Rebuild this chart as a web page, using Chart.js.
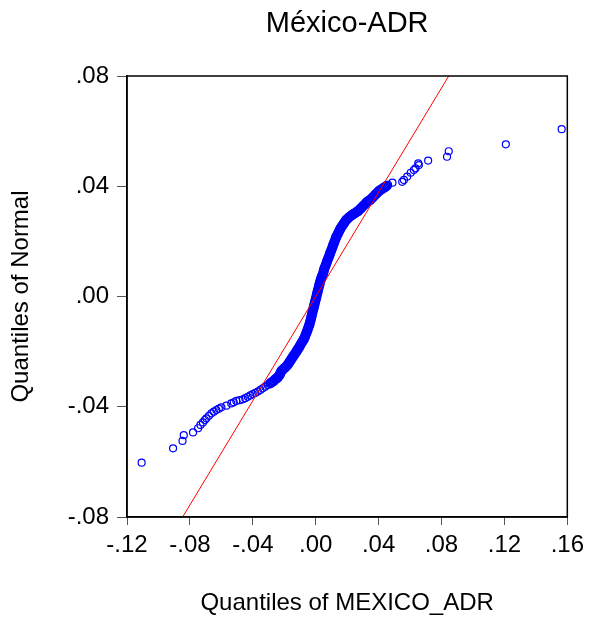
<!DOCTYPE html>
<html>
<head>
<meta charset="utf-8">
<script src="https://cdn.jsdelivr.net/npm/chart.js@4.4.1/dist/chart.umd.min.js"></script>
<style>
    body { margin: 0; background: #fff; }
</style>
</head>
<body>
<canvas id="qqChart" width="590" height="625"></canvas>
<script>
// sample quantiles (x) and matching normal quantiles (y)
const adrQuantiles = [
    -0.1107, -0.0907, -0.0847, -0.0839, -0.0780, -0.0748, -0.0733, -0.0717, -0.0705, -0.0695,
    -0.0679, -0.0663, -0.0648, -0.0632, -0.0616, -0.0600, -0.0568, -0.0537, -0.0521, -0.0505,
    -0.0484, -0.0463, -0.0448, -0.0432, -0.0416, -0.0400, -0.0384, -0.0368, -0.0352, -0.0337,
    -0.0321, -0.0305, -0.0289, -0.0273, -0.0256, -0.0242, -0.0229, -0.0218, -0.0199, -0.0180,
    -0.0167, -0.0155, -0.0142, -0.0129, -0.0117, -0.0104, -0.0091, -0.0079, -0.0069, -0.0060,
    -0.0050, -0.0041, -0.0034, -0.0028, -0.0022, -0.0015, -0.0009, -0.0003, 0.0004, 0.0010,
    0.0016, 0.0023, 0.0029, 0.0038, 0.0048, 0.0054, 0.0064, 0.0073, 0.0083, 0.0092,
    0.0102, 0.0111, 0.0121, 0.0130, 0.0143, 0.0156, 0.0168, 0.0181, 0.0194, 0.0213,
    0.0232, 0.0251, 0.0270, 0.0289, 0.0308, 0.0327, 0.0346, 0.0365, 0.0384, 0.0403,
    0.0422, 0.0441, 0.0460, 0.0488, 0.0550, 0.0561, 0.0582, 0.0604, 0.0624, 0.0635,
    0.0656, 0.0652, 0.0715, 0.0835, 0.0846, 0.1209, 0.1564
];
const normalQuantiles = [
    -0.0603, -0.0551, -0.0524, -0.0503, -0.0493, -0.0478, -0.0466, -0.0457, -0.0448, -0.0442,
    -0.0433, -0.0424, -0.0418, -0.0412, -0.0407, -0.0402, -0.0396, -0.0388, -0.0384, -0.0379,
    -0.0376, -0.0373, -0.0369, -0.0364, -0.0359, -0.0354, -0.0350, -0.0345, -0.0339, -0.0333,
    -0.0327, -0.0321, -0.0315, -0.0309, -0.0300, -0.0294, -0.0284, -0.0270, -0.0260, -0.0249,
    -0.0238, -0.0227, -0.0216, -0.0205, -0.0194, -0.0183, -0.0169, -0.0158, -0.0147, -0.0133,
    -0.0118, -0.0104, -0.0089, -0.0075, -0.0060, -0.0045, -0.0031, -0.0016, -0.0002, 0.0013,
    0.0027, 0.0042, 0.0056, 0.0071, 0.0085, 0.0100, 0.0114, 0.0129, 0.0143, 0.0158,
    0.0172, 0.0187, 0.0201, 0.0216, 0.0230, 0.0245, 0.0256, 0.0267, 0.0278, 0.0288,
    0.0296, 0.0303, 0.0310, 0.0321, 0.0332, 0.0343, 0.0350, 0.0361, 0.0372, 0.0383,
    0.0390, 0.0397, 0.0405, 0.0413, 0.0416, 0.0423, 0.0435, 0.0449, 0.0459, 0.0465,
    0.0477, 0.0483, 0.0493, 0.0507, 0.0527, 0.0552, 0.0607
];

// extra readings inside the dense middle band (where the circles merge)
const bandAdr = [
    -0.0281, -0.0265, -0.0249, -0.0236, -0.0224, -0.0209, -0.0190, -0.0174, -0.0161, -0.0149,
    -0.0136, -0.0123, -0.0111, -0.0098, -0.0085, -0.0074, -0.0065, -0.0055, -0.0046, -0.0038,
    -0.0031, -0.0025, -0.0019, -0.0012, -0.0006, 0.0001, 0.0007, 0.0013, 0.0020, 0.0026,
    0.0034, 0.0043, 0.0051, 0.0059, 0.0069, 0.0078, 0.0088, 0.0097, 0.0107, 0.0116,
    0.0126, 0.0137, 0.0150, 0.0162, 0.0175, 0.0188, 0.0204, 0.0223, 0.0242, 0.0261,
    0.0280, 0.0299, 0.0318, 0.0337, 0.0356, 0.0375, 0.0394, 0.0413, 0.0432, 0.0451
];
const bandNormal = [
    -0.0312, -0.0305, -0.0297, -0.0289, -0.0277, -0.0265, -0.0255, -0.0244, -0.0233, -0.0222,
    -0.0211, -0.0200, -0.0189, -0.0176, -0.0164, -0.0153, -0.0140, -0.0126, -0.0111, -0.0097,
    -0.0082, -0.0068, -0.0053, -0.0038, -0.0024, -0.0009, 0.0006, 0.0020, 0.0035, 0.0049,
    0.0064, 0.0078, 0.0093, 0.0107, 0.0122, 0.0136, 0.0151, 0.0165, 0.0180, 0.0194,
    0.0209, 0.0223, 0.0238, 0.0251, 0.0262, 0.0273, 0.0283, 0.0292, 0.0300, 0.0307,
    0.0316, 0.0327, 0.0338, 0.0347, 0.0356, 0.0367, 0.0378, 0.0387, 0.0394, 0.0401
];

// reference line
const refLineX = [-0.0846, 0.0846];
const refLineY = [-0.08, 0.08];

const xTicks = [-0.12, -0.08, -0.04, 0, 0.04, 0.08, 0.12, 0.16];
const xTickLabels = ['-.12', '-.08', '-.04', '.00', '.04', '.08', '.12', '.16'];
const yTicks = [-0.08, -0.04, 0, 0.04, 0.08];
const yTickLabels = ['-.08', '-.04', '.00', '.04', '.08'];

const chartTitle = 'México-ADR';
const xTitle = 'Quantiles of MEXICO_ADR';
const yTitle = 'Quantiles of Normal';

const FONT = "'Liberation Sans', Arial, sans-serif";

const qqPoints = adrQuantiles.map((x, i) => ({ x: x, y: normalQuantiles[i] }))
    .concat(bandAdr.map((x, i) => ({ x: x, y: bandNormal[i] })));
const linePoints = refLineX.map((x, i) => ({ x: x, y: refLineY[i] }));

// circles overlap so much in the middle that the band reads as solid
function inDenseBand(ctx) {
    const p = ctx.raw;
    return p && p.x > -0.029 && p.x < 0.046 && p.y > -0.0316;
}

// frame around plot + title on top of the plot area
const frameAndTitle = {
    id: 'frameAndTitle',
    afterDraw(chart) {
        const ctx = chart.ctx;
        const a = chart.chartArea;
        ctx.save();
        ctx.strokeStyle = '#000';
        ctx.lineWidth = 1.5;
        ctx.strokeRect(a.left, a.top, a.right - a.left, a.bottom - a.top);
        ctx.fillStyle = '#000';
        ctx.font = '29px ' + FONT;
        ctx.textAlign = 'center';
        ctx.textBaseline = 'middle';
        ctx.fillText(chartTitle, (a.left + a.right) / 2, 24);
        ctx.restore();
    }
};

const ctx = document.getElementById('qqChart').getContext('2d');

new Chart(ctx, {
    type: 'scatter',
    data: {
        datasets: [{
            label: 'line',
            data: linePoints,
            showLine: true,
            borderColor: '#FF0000',
            borderWidth: 1,
            pointRadius: 0,
            order: 0
        },
        {
            label: 'qq',
            data: qqPoints,
            pointStyle: 'circle',
            pointRadius: (c) => inDenseBand(c) ? 4 : 3.5,
            borderWidth: (c) => inDenseBand(c) ? 2.2 : 1.2,
            borderColor: '#0000FF',
            backgroundColor: 'rgba(0,0,0,0)',
            order: 1
        }]
    },
    options: {
        responsive: false,
        animation: false,
        devicePixelRatio: 1,
        layout: {
            padding: { top: 76, right: 21, bottom: 0, left: 0 }
        },
        plugins: {
            legend: { display: false },
            tooltip: { enabled: false },
            title: { display: false }
        },
        scales: {
            x: {
                type: 'linear',
                min: -0.12,
                max: 0.16,
                afterBuildTicks: (s) => { s.ticks = xTicks.map(v => ({ value: v })); },
                afterFit: (s) => { s.height = 108; },
                ticks: {
                    autoSkip: false,
                    maxRotation: 0,
                    padding: 6,
                    color: '#000',
                    font: { family: FONT, size: 24 },
                    callback: (v, i) => xTickLabels[i]
                },
                grid: {
                    drawOnChartArea: false,
                    drawTicks: true,
                    tickLength: 8,
                    color: '#555'
                },
                border: { display: true, color: '#000', width: 1.5 },
                title: {
                    display: true,
                    text: xTitle,
                    color: '#000',
                    font: { family: FONT, size: 24 },
                    padding: { top: 0, bottom: 7 }
                }
            },
            y: {
                type: 'linear',
                min: -0.08,
                max: 0.08,
                afterBuildTicks: (s) => { s.ticks = yTicks.map(v => ({ value: v })); },
                afterFit: (s) => { s.width = 127; },
                ticks: {
                    autoSkip: false,
                    padding: 8,
                    color: '#000',
                    font: { family: FONT, size: 24 },
                    callback: (v, i) => yTickLabels[i]
                },
                grid: {
                    drawOnChartArea: false,
                    drawTicks: true,
                    tickLength: 10,
                    color: '#555'
                },
                border: { display: true, color: '#000', width: 1.5 },
                title: {
                    display: true,
                    text: yTitle,
                    color: '#000',
                    font: { family: FONT, size: 24 },
                    padding: { top: 7, bottom: 0 }
                }
            }
        }
    },
    plugins: [frameAndTitle]
});
</script>
</body>
</html>
